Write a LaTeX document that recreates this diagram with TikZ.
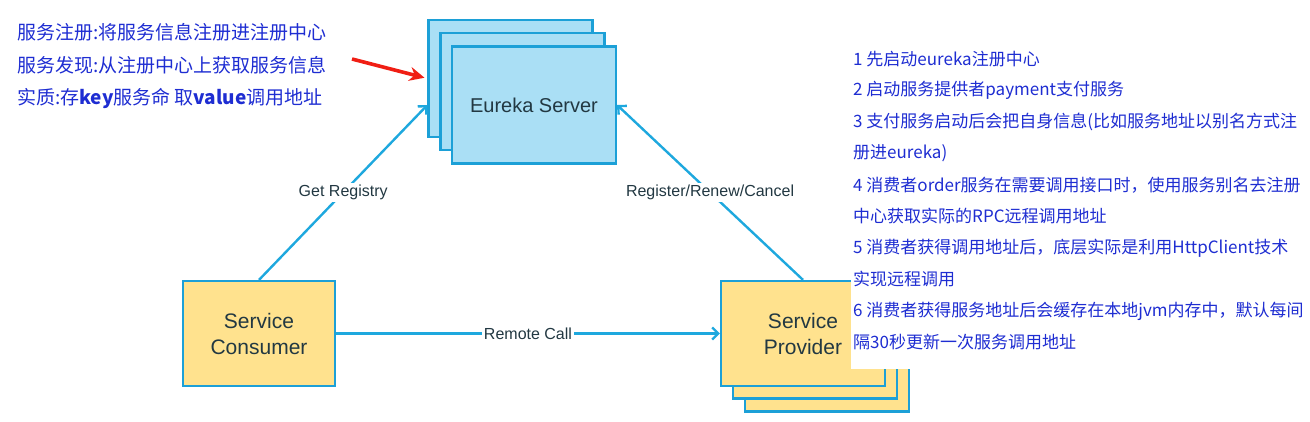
\documentclass[tikz,border=0pt]{standalone}
\usepackage{fontspec}
\setmainfont{Liberation Sans}
\newfontfamily\cjk{Noto Sans CJK SC}
\usepackage{tikz}
\usetikzlibrary{arrows.meta,positioning}
\definecolor{serverfill}{RGB}{170,223,245}
\definecolor{clientfill}{RGB}{255,226,142}
\definecolor{edgeblue}{RGB}{28,160,215}
\definecolor{linkblue}{RGB}{30,168,222}
\definecolor{labelgrey}{RGB}{34,56,66}
\definecolor{noteblue}{RGB}{30,45,210}
\definecolor{hintred}{RGB}{240,30,20}
\tikzset{
    server/.style={draw=edgeblue, fill=serverfill, line width=2.2pt,
        minimum width=164pt, minimum height=117pt},
    client/.style={draw=edgeblue, fill=clientfill, line width=2.2pt,
        minimum height=105pt, align=center, text=labelgrey,
        font=\fontsize{21}{26}\selectfont},
    link/.style={draw=linkblue, line width=2.4pt,
        -{Straight Barb[length=6pt,width=12pt]}},
    linklabel/.style={fill=white, inner sep=2pt, text=labelgrey,
        font=\fontsize{16}{19}\selectfont},
    note/.style={right, inner sep=0pt, text=noteblue,
        font=\cjk\fontsize{19}{22}\selectfont},
    stepnote/.style={right, inner sep=0pt, text=noteblue,
        font=\cjk\fontsize{17}{20}\selectfont}
}
\begin{document}
\begin{tikzpicture}[x=1pt, y=-1pt]
                    \useasboundingbox (0, 0) rectangle (1310, 422);
                    \node [server] (eurekaBack) at (510.5, 78.5) {};
                    \node [server] (eurekaMid) at (522.5, 91.5) {};
                    \node [server, text=labelgrey, font=\fontsize{20}{24}\selectfont] (eureka) at (534, 105) {Eureka Server};
                    \node [client, minimum width=152pt] (consumer) at (259, 333.5) {Service\\Consumer};
                    \node [client, minimum width=164pt] (providerBack) at (827, 359) {};
                    \node [client, minimum width=164pt] (providerMid) at (815, 346) {};
                    \node [client, minimum width=164pt] (provider) at (803, 333.5) {Service\\Provider};
                    \draw [link] (consumer.north) -- node [linklabel] {Get Registry} (eurekaBack.west |- eureka.center);
                    \draw [link] (provider.north) -- node [linklabel] {Register/Renew/Cancel} (eureka.east);
                    \draw [link] (consumer) -- node [linklabel] {Remote Call} (provider);
                    \coordinate (hint) at (352, 59);
                    \draw [hintred, line width=3.6pt, shorten >=3pt, -{Stealth[length=15pt,width=14pt]}] (hint) -- (eurekaBack.west);
                    \node [note] (registerNote) at (17, 32) {服务注册:将服务信息注册进注册中心};
                    \node [note] (discoverNote) at (17, 65) {服务发现:从注册中心上获取服务信息};
                    \node [note] (essenceNote) at (17, 98) {实质:存{\bfseries key}服务命 取{\bfseries value}调用地址};
                    \fill [white] (851, 40) rectangle (1310, 369);
                    \node [stepnote] (step1) at (853, 59) {1 先启动eureka注册中心};
                    \node [stepnote] (step2) at (853, 90.5) {2 启动服务提供者payment支付服务};
                    \node [stepnote] (step3) at (853, 122) {3 支付服务启动后会把自身信息(比如服务地址以别名方式注};
                    \node [stepnote] (step3b) at (853, 153.5) {册进eureka)};
                    \node [stepnote] (step4) at (853, 185) {4 消费者order服务在需要调用接口时，使用服务别名去注册};
                    \node [stepnote] (step4b) at (853, 216.5) {中心获取实际的RPC远程调用地址};
                    \node [stepnote] (step5) at (853, 248) {5 消费者获得调用地址后，底层实际是利用HttpClient技术};
                    \node [stepnote] (step5b) at (853, 279.5) {实现远程调用};
                    \node [stepnote] (step6) at (853, 311) {6 消费者获得服务地址后会缓存在本地jvm内存中，默认每间};
                    \node [stepnote] (step6b) at (853, 342.5) {隔30秒更新一次服务调用地址};
                \end{tikzpicture}
\end{document}
